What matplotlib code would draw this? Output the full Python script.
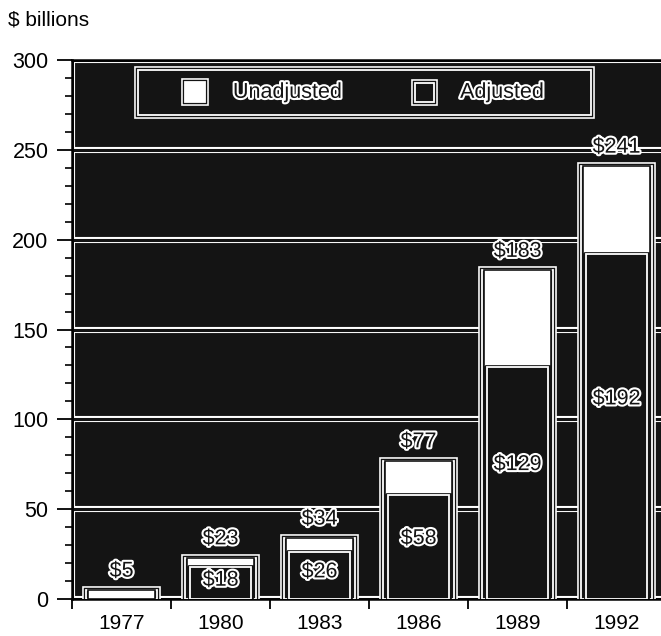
import numpy as np
import matplotlib.pyplot as plt
import matplotlib.patheffects as pe
from matplotlib.patches import Rectangle

years = ['1977', '1980', '1983', '1986', '1989', '1992']
unadjusted = [5, 23, 34, 77, 183, 241]
adjusted = [np.nan, 18, 26, 58, 129, 192]
series_names = ['Unadjusted', 'Adjusted']

BG = '#141414'
plt.rcParams['font.family'] = ['Liberation Sans', 'DejaVu Sans']

fig = plt.figure(figsize=(6.61, 6.36), dpi=100)
ax = fig.add_axes([72 / 661, 37 / 636, 594 / 661, 539 / 636])
ax.set_facecolor(BG)
ax.set_xlim(0, 6)
ax.set_ylim(0, 300)

# white outline, dark gap, white outer ring
halo = [pe.Stroke(linewidth=5.5, foreground='white'),
        pe.Stroke(linewidth=3.2, foreground=BG),
        pe.Normal()]
outline = [pe.Stroke(linewidth=3.0, foreground='white'), pe.Normal()]

# double-line grid
for y in range(0, 301, 50):
    ax.axhline(y, color='white', lw=4.4, zorder=1)
    ax.axhline(y, color=BG, lw=2.2, zorder=1.1)
ax.axvline(0, color='white', lw=4.4, zorder=1)
ax.axvline(0, color=BG, lw=2.2, zorder=1.1)

x = np.arange(len(years)) + 0.5
w = 0.72
U = np.array(unadjusted, dtype=float)
A = np.array(adjusted, dtype=float)
A0 = np.nan_to_num(A)

outer = ax.bar(x, U, width=w, color=BG, edgecolor='white', linewidth=1.3, zorder=3)
for p in outer:
    p.set_path_effects(halo)

ax.bar(x, U - A0, bottom=A0, width=w - 0.05, color='white',
       edgecolor=BG, linewidth=1.2, zorder=4)

inner = ax.bar(x, A, width=w - 0.1, color=BG, edgecolor='white', linewidth=1.3, zorder=5)
for p in inner:
    p.set_path_effects([pe.Stroke(linewidth=3.4, foreground=BG), pe.Normal()])

# value labels
for xi, u, a in zip(x, U, A):
    ax.annotate(f'${u:.0f}', (xi, u), xytext=(0, 6), textcoords='offset points',
                ha='center', va='bottom', fontsize=15.5, color=BG,
                path_effects=outline, zorder=8)
    if not np.isnan(a):
        ax.text(xi, a * 0.58, f'${a:.0f}', ha='center', va='center',
                fontsize=15.5, color=BG, path_effects=outline, zorder=8)

# legend box
ax.add_patch(Rectangle((0.667, 269.5), 4.58, 24.9, facecolor=BG, edgecolor='white',
                       lw=1.3, zorder=6, path_effects=halo))
ax.add_patch(Rectangle((1.141, 276.5), 0.2, 11.0, facecolor='white', edgecolor='white',
                       lw=1.3, zorder=7, path_effects=halo))
ax.add_patch(Rectangle((3.465, 276.5), 0.19, 10.5, facecolor=BG, edgecolor='white',
                       lw=1.3, zorder=7, path_effects=halo))
ax.text(1.626, 282, series_names[0], ha='left', va='center', fontsize=15.5,
        color=BG, path_effects=outline, zorder=8)
ax.text(3.92, 282, series_names[1], ha='left', va='center', fontsize=15.5,
        color=BG, path_effects=outline, zorder=8)

# axes and ticks
ax.set_yticks(range(0, 301, 50))
ax.set_yticks(range(0, 301, 10), minor=True)
ax.tick_params(axis='y', which='major', length=11, width=1.3, pad=6, labelsize=15.5)
ax.tick_params(axis='y', which='minor', length=5, width=1.2)
ax.set_xticks(range(0, 7))
ax.set_xticklabels([])
ax.set_xticks(x, years, minor=True)
ax.tick_params(axis='x', which='major', length=7, width=1.3)
ax.tick_params(axis='x', which='minor', length=0, pad=11, labelsize=15)
for s in ['left', 'bottom', 'top']:
    ax.spines[s].set_linewidth(1.8)
ax.spines['right'].set_visible(False)

fig.text(8 / 661, 1 - 20 / 636, '$ billions', ha='left', va='center', fontsize=15)

fig.savefig('out.png', dpi=100)
